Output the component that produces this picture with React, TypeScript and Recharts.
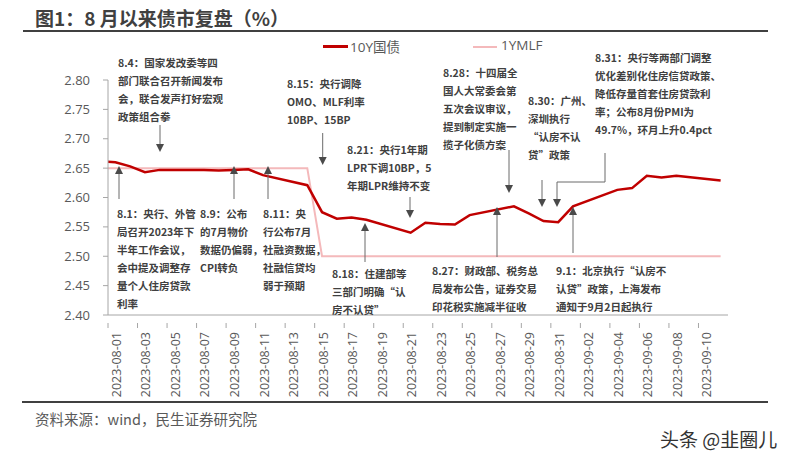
import React from "react"
import { LineChart, Line, XAxis, YAxis, Legend } from "recharts"

// trading days (wind), 07-31 sits left of the axis and is clipped
const tradeDates = [
  "2023-07-31", "2023-08-01", "2023-08-02", "2023-08-03", "2023-08-04",
  "2023-08-07", "2023-08-08", "2023-08-09", "2023-08-10", "2023-08-11",
  "2023-08-14", "2023-08-15", "2023-08-16", "2023-08-17", "2023-08-18",
  "2023-08-21", "2023-08-22", "2023-08-23", "2023-08-24", "2023-08-25",
  "2023-08-28", "2023-08-29", "2023-08-30", "2023-08-31", "2023-09-01",
  "2023-09-04", "2023-09-05", "2023-09-06", "2023-09-07", "2023-09-08",
  "2023-09-11",
]

const cgb10y = [
  2.662, 2.66, 2.653, 2.643, 2.647,
  2.647, 2.646, 2.647, 2.648, 2.638,
  2.621, 2.575, 2.564, 2.566, 2.562,
  2.54, 2.557, 2.555, 2.554, 2.57,
  2.585, 2.573, 2.56, 2.558, 2.585,
  2.613, 2.616, 2.637, 2.634, 2.637,
  2.629,
]

const mlf1y = [
  2.65, 2.65, 2.65, 2.65, 2.65,
  2.65, 2.65, 2.65, 2.65, 2.65,
  2.65, 2.5, 2.5, 2.5, 2.5,
  2.5, 2.5, 2.5, 2.5, 2.5,
  2.5, 2.5, 2.5, 2.5, 2.5,
  2.5, 2.5, 2.5, 2.5, 2.5,
  2.5,
]

const tickDates = [
  "2023-08-01", "2023-08-03", "2023-08-05", "2023-08-07", "2023-08-09",
  "2023-08-11", "2023-08-13", "2023-08-15", "2023-08-17", "2023-08-19",
  "2023-08-21", "2023-08-23", "2023-08-25", "2023-08-27", "2023-08-29",
  "2023-08-31", "2023-09-02", "2023-09-04", "2023-09-06", "2023-09-08",
  "2023-09-10",
]

const yTicks = [2.4, 2.45, 2.5, 2.55, 2.6, 2.65, 2.7, 2.75, 2.8]

const BASE = "2023-08-01"
const TOTAL_DAYS = 42
const dayIdx = (d: string) => (Date.parse(d) - Date.parse(BASE)) / 86400000 + 0.5

const data = tradeDates.map((d, i) => ({
  x: dayIdx(d),
  date: d,
  cgb: cgb10y[i],
  mlf: mlf1y[i],
}))

const PLOT_LEFT = 108
const PLOT_RIGHT = 728
const DAY_W = (PLOT_RIGHT - PLOT_LEFT) / TOTAL_DAYS

const RED = "#c00000"
const PINK = "#f4b9bb"
const AXIS = "#a6a6a6"
const TXT = "#595959"
const NOTE = "#404040"

const XTick = (props: any) => {
  const { x, y, payload } = props
  const label = tickDates.find((d) => dayIdx(d) === payload.value) || ""
  return (
    <g>
      <line x1={x - DAY_W / 2} x2={x - DAY_W / 2} y1={y} y2={y + 5} stroke={AXIS} />
      <text
        x={0}
        y={0}
        transform={`translate(${x + 1},${y + 9}) rotate(-90)`}
        textAnchor="end"
        dominantBaseline="central"
        fontSize={12.5}
        fill={TXT}
        fontFamily="'Open Sans', sans-serif"
      >
        {label}
      </text>
    </g>
  )
}

const LegendBox = () => (
  <div style={{ position: "relative", height: 20, fontFamily: "'Open Sans', 'Noto Sans CJK SC', sans-serif", fontSize: 13.5, color: TXT }}>
    <div style={{ position: "absolute", left: 323, top: 9, width: 25, height: 3, background: RED }} />
    <span style={{ position: "absolute", left: 350, top: 0 }}>10Y国债</span>
    <div style={{ position: "absolute", left: 473, top: 10, width: 24, height: 2, background: PINK }} />
    <span style={{ position: "absolute", left: 501, top: 0 }}>1YMLF</span>
  </div>
)

type Note = { x: number; y: number; lines: string[] }

const notes: Note[] = [
  { x: 118, y: 62, lines: ["8.4：国家发改委等四", "部门联合召开新闻发布", "会，联合发声打好宏观", "政策组合拳"] },
  { x: 287, y: 83, lines: ["8.15：央行调降", "OMO、MLF利率", "10BP、15BP"] },
  { x: 347, y: 149, lines: ["8.21：央行1年期", "LPR下调10BP，5", "年期LPR维持不变"] },
  { x: 443, y: 72, lines: ["8.28：十四届全", "国人大常委会第", "五次会议审议，", "提到制定实施一", "揽子化债方案"] },
  { x: 528, y: 100, lines: ["8.30：广州、", "深圳执行", "“认房不认", "贷”政策"] },
  { x: 595, y: 57, lines: ["8.31：央行等两部门调整", "优化差别化住房信贷政策、", "降低存量首套住房贷款利", "率；公布8月份PMI为", "49.7%，环月上升0.4pct"] },
  { x: 117, y: 213, lines: ["8.1：央行、外管", "局召开2023年下", "半年工作会议，", "会中提及调整存", "量个人住房贷款", "利率"] },
  { x: 200, y: 213, lines: ["8.9：公布", "的7月物价", "数据仍偏弱，", "CPI转负"] },
  { x: 263, y: 213, lines: ["8.11：央", "行公布7月", "社融资数据，", "社融信贷均", "弱于预期"] },
  { x: 332, y: 273, lines: ["8.18：住建部等", "三部门明确“认", "房不认贷”"] },
  { x: 432, y: 270, lines: ["8.27：财政部、税务总", "局发布公告，证券交易", "印花税实施减半征收"] },
  { x: 556, y: 270, lines: ["9.1：北京执行“认房不", "认贷”政策，上海发布", "通知于9月2日起执行"] },
]

// [x, from, tip]
const arrows: [number, number, number][] = [
  [160, 125, 152],
  [322.7, 133, 165],
  [410, 197, 218],
  [509, 150, 193],
  [542, 180, 207],
  [557, 182, 207],
  [119, 199, 166],
  [234, 199, 166],
  [268, 199, 166],
  [365, 262, 223],
  [497, 257, 207],
  [573, 253, 207],
]

const Annotations = () => (
  <svg width={800} height={465} style={{ position: "absolute", left: 0, top: 0, pointerEvents: "none" }}>
    {notes.map((n, i) => (
      <g key={i}>
        {n.lines.map((t, j) => (
          <text
            key={j}
            x={n.x}
            y={n.y + j * 18}
            dominantBaseline="central"
            fontSize={10.5}
            fontWeight="bold"
            fill={NOTE}
            fontFamily="'Noto Sans CJK SC', sans-serif"
          >
            {t}
          </text>
        ))}
      </g>
    ))}
    {arrows.map(([x, from, tip], i) => {
      const dir = tip > from ? 1 : -1
      return (
        <g key={i}>
          <line x1={x} x2={x} y1={from} y2={tip - dir * 6} stroke="#6b6b6b" strokeWidth={1} />
          <polygon points={`${x - 4},${tip - dir * 8} ${x + 4},${tip - dir * 8} ${x},${tip}`} fill="#4a4a4a" />
        </g>
      )
    })}
    <polyline points="605,153 605,182 557,182" fill="none" stroke="#6b6b6b" strokeWidth={1} />
  </svg>
)

export default function App() {
  return (
    <div style={{ position: "absolute", left: 0, top: 0, width: 800, height: 465, background: "#fff", overflow: "hidden" }}>
      <div
        style={{
          position: "absolute", left: 35, top: 4, fontSize: 19, fontWeight: "bold", color: "#404040",
          fontFamily: "'Noto Sans CJK SC', sans-serif", whiteSpace: "nowrap",
        }}
      >
        图1：8 月以来债市复盘（%）
      </div>
      <div style={{ position: "absolute", left: 23, top: 30, width: 745, height: 2, background: "#404040" }} />

      <LineChart width={800} height={465} data={data} margin={{ top: 60, right: 72, left: 48, bottom: 70 }}>
        <XAxis
          dataKey="x"
          type="number"
          domain={[0, TOTAL_DAYS]}
          ticks={tickDates.map(dayIdx)}
          interval={0}
          allowDataOverflow
          tickLine={false}
          axisLine={{ stroke: AXIS }}
          tick={<XTick />}
          height={80}
        />
        <YAxis
          type="number"
          domain={[2.4, 2.8]}
          ticks={yTicks}
          interval={0}
          allowDataOverflow
          width={60}
          tickSize={5}
          tickMargin={13}
          axisLine={{ stroke: AXIS }}
          tickLine={{ stroke: AXIS }}
          tickFormatter={(v: number) => v.toFixed(2)}
          tick={{ fill: TXT, fontSize: 13, fontFamily: "'Open Sans', sans-serif" }}
        />
        <Legend verticalAlign="top" content={<LegendBox />} wrapperStyle={{ top: 36, left: 0, width: 800 }} />
        <Line dataKey="mlf" name="1YMLF" stroke={PINK} strokeWidth={2} dot={false} isAnimationActive={false} />
        <Line dataKey="cgb" name="10Y国债" stroke={RED} strokeWidth={2.5} dot={false} isAnimationActive={false} />
      </LineChart>

      <Annotations />

      <div style={{ position: "absolute", left: 22, top: 401, width: 746, height: 2, background: "#404040" }} />
      <div
        style={{
          position: "absolute", left: 35, top: 408, fontSize: 14.5, color: TXT,
          fontFamily: "'Noto Sans CJK SC', sans-serif", whiteSpace: "nowrap",
        }}
      >
        资料来源：wind，民生证券研究院
      </div>
      <div
        style={{
          position: "absolute", left: 660, top: 425, fontSize: 19, color: "#333",
          fontFamily: "'Noto Sans CJK SC', sans-serif", whiteSpace: "nowrap",
        }}
      >
        头条 @韭圈儿
      </div>
    </div>
  )
}
